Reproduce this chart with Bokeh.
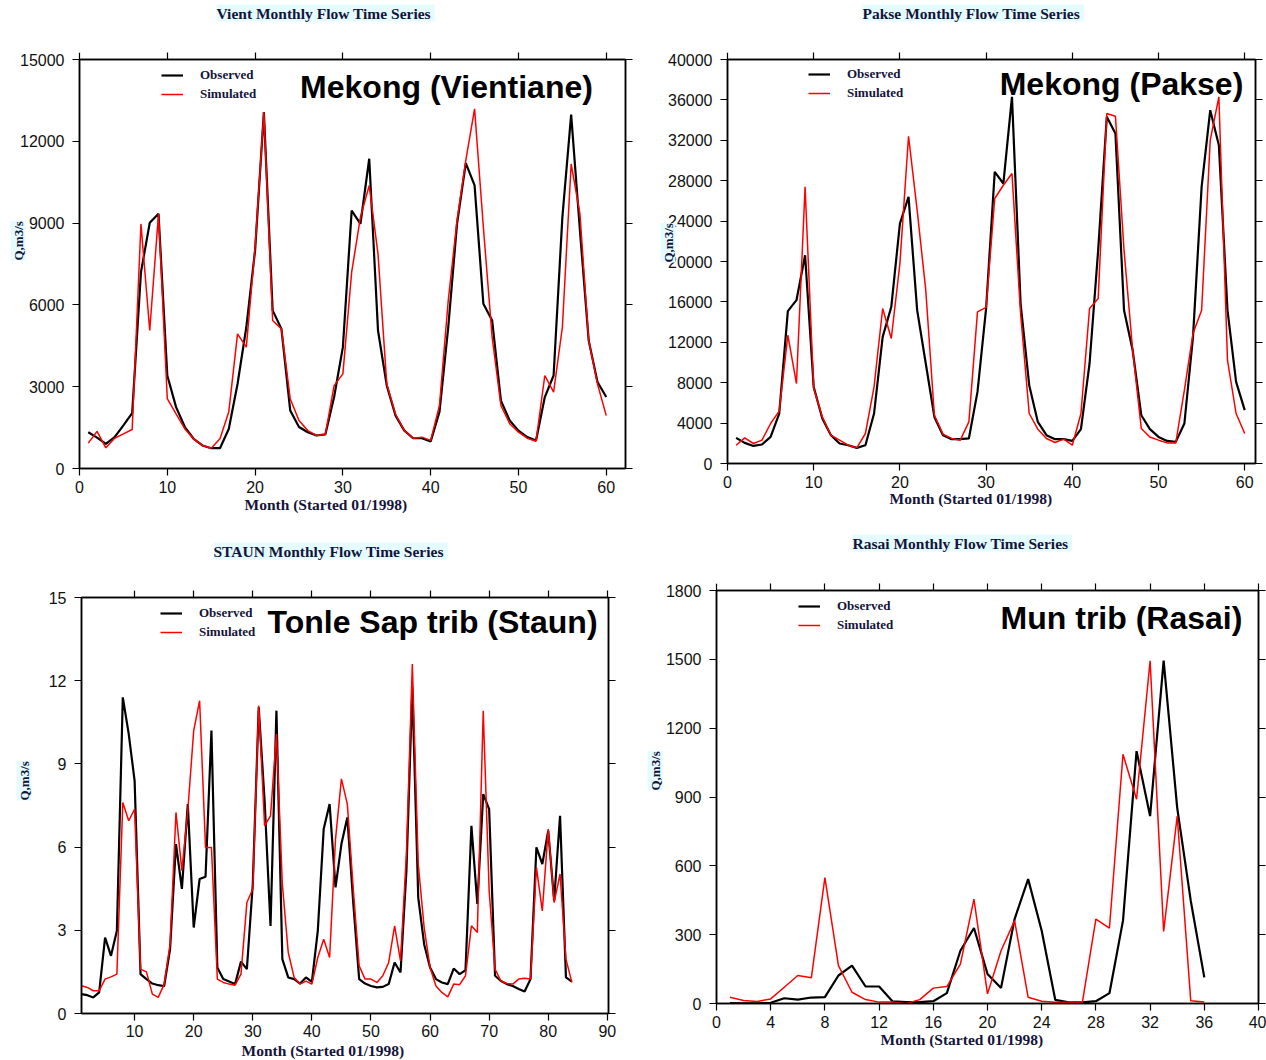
from bokeh.plotting import figure
from bokeh.models import (Range1d, FixedTicker, LinearAxis, Label, Legend,
                          LegendItem, CustomJSTickFormatter, Title)
from bokeh.layouts import row, column
from bokeh.embed import file_html
from bokeh.resources import INLINE

# ---------------- data ----------------
vient_months = list(range(1, 61))
vient_obs = [1330, 1130, 905, 1150, 1580, 2030, 7200, 9010, 9340, 3410,
             2250, 1520, 1090, 845, 745, 745, 1450, 3100, 5180, 8000,
             13070, 5800, 5120, 2130, 1520, 1330, 1210, 1250, 2620, 4450,
             9460, 8970, 11360, 5060, 3040, 1940, 1390, 1110, 1110, 990,
             2070, 5180, 8970, 11200, 10380, 6040, 5430, 2490, 1760, 1390,
             1150, 1030, 2620, 3410, 9220, 12980, 8730, 4690, 3170, 2620]
vient_sim = [930, 1360, 760, 1110, 1270, 1430, 8970, 5060, 9340, 2560,
             2000, 1450, 1090, 845, 745, 1090, 2070, 4940, 4450, 8120,
             13070, 5430, 5120, 2560, 1760, 1390, 1210, 1250, 3040, 3470,
             7200, 9220, 10380, 7870, 3100, 1990, 1390, 1110, 1150, 1030,
             2310, 6160, 9100, 11300, 13190, 8850, 4820, 2310, 1640, 1330,
             1110, 1000, 3410, 2800, 5180, 11170, 9340, 4690, 3100, 1940]

pakse_months = list(range(1, 61))
pakse_obs = [2540, 2040, 1740, 1880, 2630, 4950, 15080, 16170, 20620, 7580,
             4460, 2800, 1980, 1810, 1550, 1810, 4950, 12540, 15510, 23760,
             26400, 15180, 9900, 4610, 2800, 2410, 2410, 2480, 7090, 15350,
             28870, 27720, 36300, 15840, 7750, 4120, 2800, 2410, 2410, 2240,
             3400, 9900, 21120, 34320, 32670, 15180, 11220, 4780, 3400, 2630,
             2240, 2140, 3960, 12540, 27390, 34980, 31520, 15180, 8080, 5280]
pakse_sim = [1810, 2540, 1980, 2310, 3960, 5180, 12700, 7920, 27390, 7430,
             4610, 2800, 2310, 1810, 1550, 2970, 7580, 15350, 12380, 19800,
             32400, 25080, 17160, 4780, 2900, 2480, 2310, 4120, 15010, 15450,
             26240, 27550, 28710, 14850, 4950, 3400, 2480, 2080, 2410, 1810,
             4950, 15350, 16340, 34650, 34390, 21120, 11220, 3470, 2630, 2310,
             2040, 2040, 7260, 12870, 15180, 32010, 36300, 10230, 4950, 2970]

staun_months = list(range(1, 85))
staun_obs = [0.70, 0.66, 0.58, 0.76, 2.74, 2.08, 2.98, 11.40, 10.08, 8.39,
             1.42, 1.24, 1.08, 1.02, 0.99, 2.32, 6.11, 4.49, 7.55, 3.10,
             4.85, 4.93, 10.20, 1.66, 1.24, 1.15, 1.06, 1.87, 1.60, 4.67,
             11.04, 7.67, 3.16, 10.92, 1.96, 1.30, 1.24, 1.08, 1.30, 1.14,
             2.98, 6.65, 7.55, 4.55, 6.11, 7.07, 4.00, 1.24, 1.08, 0.99,
             0.94, 0.96, 1.06, 1.84, 1.48, 5.15, 11.76, 4.18, 2.50, 1.66,
             1.24, 1.12, 1.06, 1.62, 1.42, 1.56, 6.77, 3.95, 7.91, 7.37,
             1.36, 1.17, 1.06, 0.99, 0.88, 0.79, 1.24, 5.99, 5.39, 6.59,
             4.07, 7.13, 1.30, 1.15]
staun_sim = [1.00, 0.94, 0.82, 0.82, 1.24, 1.32, 1.42, 7.61, 6.95, 7.37,
             1.60, 1.50, 0.70, 0.58, 1.06, 2.50, 7.25, 5.15, 7.31, 10.20,
             11.28, 5.99, 5.99, 1.24, 1.12, 1.06, 1.02, 1.42, 4.00, 4.49,
             11.10, 6.77, 7.13, 10.08, 4.67, 2.20, 1.30, 1.06, 1.17, 1.06,
             2.02, 2.68, 2.02, 6.29, 8.46, 7.55, 4.50, 1.72, 1.24, 1.24,
             1.12, 1.36, 1.84, 3.16, 1.90, 5.75, 12.60, 5.39, 3.10, 1.66,
             0.99, 0.76, 0.60, 1.06, 1.04, 1.36, 3.16, 2.92, 10.92, 4.43,
             1.60, 1.17, 1.08, 1.06, 1.24, 1.27, 1.24, 5.27, 3.70, 6.65,
             4.00, 5.03, 1.96, 1.12]

rasai_months = list(range(1, 37))
rasai_obs = [2, 1, 1, 3, 23, 17, 26, 28, 122, 165,
             74, 74, 9, 6, 6, 10, 45, 230, 329, 129,
             68, 368, 542, 317, 16, 5, 5, 10, 45, 361,
             1100, 817, 1494, 853, 448, 114]
rasai_sim = [27, 13, 9, 20, 71, 122, 112, 549, 165, 49,
             17, 6, 6, 0, 17, 67, 74, 172, 455, 42,
             230, 361, 27, 10, 5, 5, 5, 368, 329, 1086,
             890, 1494, 314, 817, 12, 7]

vient_xticks = [0, 10, 20, 30, 40, 50, 60]
vient_yticks = [0, 3000, 6000, 9000, 12000, 15000]
pakse_xticks = [0, 10, 20, 30, 40, 50, 60]
pakse_yticks = [0, 4000, 8000, 12000, 16000, 20000, 24000, 28000, 32000, 36000, 40000]
staun_xticks = [10, 20, 30, 40, 50, 60, 70, 80, 90]
staun_yticks = [0, 3, 6, 9, 12, 15]
rasai_xticks = [0, 4, 8, 12, 16, 20, 24, 28, 32, 36, 40]
rasai_yticks = [0, 300, 600, 900, 1200, 1500, 1800]

titles = ["Vient  Monthly Flow Time Series", "Pakse  Monthly Flow Time Series",
          "STAUN  Monthly Flow Time Series", "Rasai  Monthly Flow Time Series"]
names = ["Mekong (Vientiane)", "Mekong (Pakse)", "Tonle Sap trib (Staun)", "Mun trib (Rasai)"]
x_label = "Month (Started 01/1998)"
y_label = "Q,m3/s"
series_labels = ["Observed", "Simulated"]

CYAN = "#e4fbff"
SERIF = "Liberation Serif"
SANS = "Liberation Sans"
INK = "#14143a"


def panel(months, obs, sim, xr, yr, xticks, yticks, width, height, borders,
          title, name, title_off, top_gap, name_pos, xlab_off, xlab_so,
          ylab_off, ylab_so, leg_pos, xstand=5):
    bl, br, bt, bb = borders
    p = figure(width=width, height=height, x_range=Range1d(*xr), y_range=Range1d(*yr),
               output_backend="svg", toolbar_location=None, title=None,
               min_border_left=bl, min_border_right=br, min_border_top=bt,
               min_border_bottom=bb)
    p.background_fill_color = "white"
    p.border_fill_color = "white"
    p.outline_line_color = "black"
    p.outline_line_width = 1.5
    p.xgrid.visible = False
    p.ygrid.visible = False

    for ax, tk in ((p.xaxis[0], xticks), (p.yaxis[0], yticks)):
        ax.ticker = FixedTicker(ticks=tk)
        ax.major_tick_out = 7
        ax.major_tick_in = 0
        ax.minor_tick_out = 0
        ax.minor_tick_in = 0
        ax.axis_line_width = 1.5
        ax.major_tick_line_width = 1.2
        ax.major_label_text_font = SANS
        ax.major_label_text_font_size = "16px"
        ax.major_label_text_color = "#111111"
    p.xaxis[0].major_label_standoff = xstand
    p.yaxis[0].major_label_standoff = 8

    # tick-only axes on the top and right edges of the frame
    for side, tk in (("above", xticks), ("right", yticks)):
        ax = LinearAxis(ticker=FixedTicker(ticks=tk),
                        formatter=CustomJSTickFormatter(code="return ''"),
                        major_tick_out=7, major_tick_in=0,
                        minor_tick_out=0, minor_tick_in=0,
                        major_label_standoff=0, axis_line_width=1.5,
                        major_tick_line_width=1.2)
        p.add_layout(ax, side)
    # blank spacer (white ticks on white) between the top ticks and the title
    spacer = LinearAxis(ticker=FixedTicker(ticks=[xticks[0]]),
                        formatter=CustomJSTickFormatter(code="return ''"),
                        major_tick_out=top_gap, major_tick_in=0,
                        minor_tick_out=0, minor_tick_in=0, major_label_standoff=0,
                        axis_line_color=None, major_tick_line_color="white",
                        major_tick_line_width=1)
    p.add_layout(spacer, "above")

    p.add_layout(Title(text=title, align="left", offset=title_off, standoff=0,
                       text_font=SERIF, text_font_style="bold", text_font_size="15.5px",
                       text_color=INK, background_fill_color=CYAN), "above")
    p.add_layout(Title(text=x_label, align="left", offset=xlab_off, standoff=xlab_so,
                       text_font=SERIF, text_font_style="bold", text_font_size="15.5px",
                       text_color=INK), "below")
    p.add_layout(Title(text=y_label, align="left", offset=ylab_off, standoff=ylab_so,
                       text_font=SERIF, text_font_style="bold", text_font_size="13px",
                       text_color=INK, background_fill_color=CYAN), "left")

    r_obs = p.line(months, obs, line_color="black", line_width=2.2)
    r_sim = p.line(months, sim, line_color="#ff0000", line_width=1.5)

    legend = Legend(items=[LegendItem(label=series_labels[0], renderers=[r_obs]),
                           LegendItem(label=series_labels[1], renderers=[r_sim])],
                    location=leg_pos, glyph_width=22, glyph_height=16,
                    label_height=16, label_standoff=17, spacing=3, padding=0,
                    margin=0, border_line_color=None, background_fill_alpha=0,
                    label_text_font=SERIF, label_text_font_style="bold",
                    label_text_font_size="13px", label_text_color=INK)
    p.add_layout(legend)

    p.add_layout(Label(x=name_pos[0], y=name_pos[1], x_units="screen", y_units="screen",
                       text=name, text_font=SANS, text_font_style="bold",
                       text_font_size="32px", text_color="black",
                       text_align="center", text_baseline="middle"))
    return p


p1 = panel(vient_months, vient_obs, vient_sim, (0, 62.19), (0, 15000),
           vient_xticks, vient_yticks, 651, 530, (79, 26, 59, 62),
           titles[0], names[0], 137, 31, (367, 382), 165, -4, 208, -16, (82, 366))
p2 = panel(pakse_months, pakse_obs, pakse_sim, (0, 61.25), (0, 40000),
           pakse_xticks, pakse_yticks, 615, 530, (76, 11, 59, 67),
           titles[1], names[1], 135, 31, (394, 380), 162, -6, 201, -20, (81, 362))
p3 = panel(staun_months, staun_obs, staun_sim, (1.01, 90.2), (0, 15),
           staun_xticks, staun_yticks, 645, 530, (79, 37, 67, 47),
           titles[2], names[2], 132, 31, (351, 392), 160, 0, 213, 28, (79, 373), xstand=4)
p4 = panel(rasai_months, rasai_obs, rasai_sim, (0, 40), (0, 1800),
           rasai_xticks, rasai_yticks, 621, 530, (69, 8, 60, 57),
           titles[3], names[3], 136, 32, (405, 386), 164, -4, 213, 0, (82, 370))

layout = column(row(column(p1), column(p2)), row(column(p3), column(p4)))
open("out.html", "w").write(file_html(layout, INLINE))
